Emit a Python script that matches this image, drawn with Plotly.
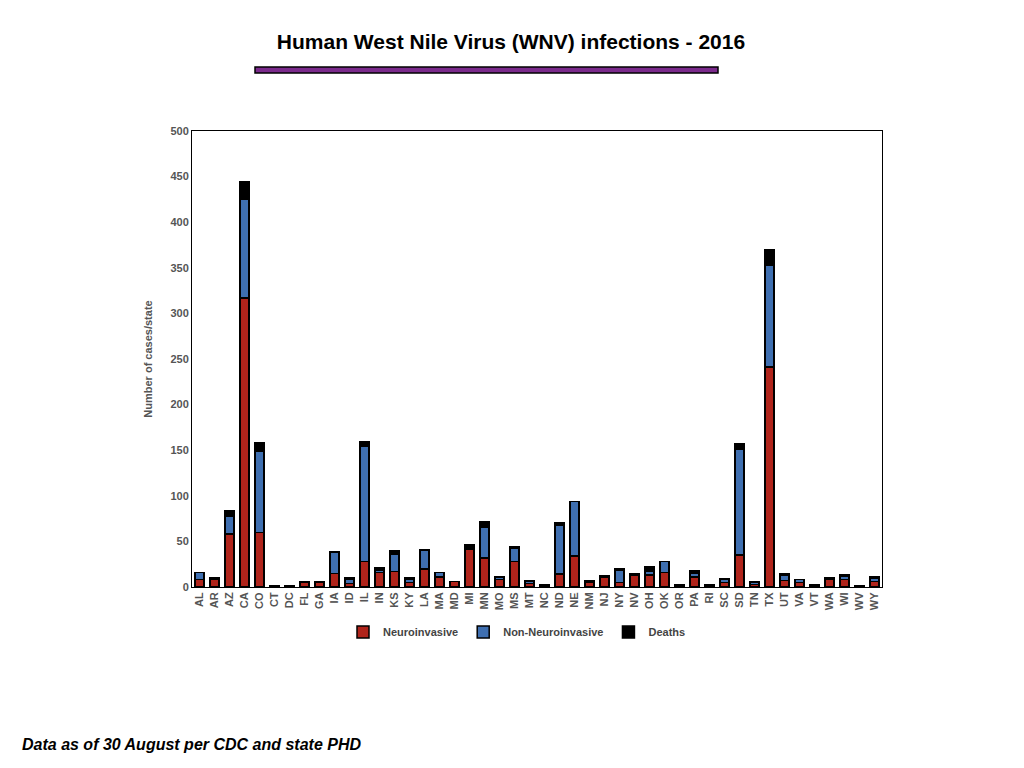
import plotly.graph_objs as go

states = ['AL', 'AR', 'AZ', 'CA', 'CO', 'CT', 'DC', 'FL', 'GA', 'IA', 'ID', 'IL', 'IN', 'KS', 'KY',
          'LA', 'MA', 'MD', 'MI', 'MN', 'MO', 'MS', 'MT', 'NC', 'ND', 'NE', 'NM', 'NJ', 'NY', 'NV',
          'OH', 'OK', 'OR', 'PA', 'RI', 'SC', 'SD', 'TN', 'TX', 'UT', 'VA', 'VT', 'WA', 'WI', 'WV', 'WY']
neuro = [8, 8, 58, 317, 60, 0, 0, 5, 5, 15, 4, 28, 16, 17, 5,
         20, 11, 6, 41, 32, 8, 28, 4, 2, 14, 34, 5, 11, 5, 13,
         13, 16, 2, 11, 2, 5, 35, 3, 241, 7, 5, 2, 8, 8, 0, 6]
non_neuro = [8, 0, 20, 108, 89, 0, 0, 0, 0, 23, 5, 126, 2, 19, 3,
             20, 5, 0, 0, 34, 3, 15, 2, 0, 54, 60, 0, 0, 13, 2,
             4, 12, 0, 4, 0, 4, 116, 2, 112, 6, 3, 0, 0, 4, 0, 4]
deaths = [0, 2, 6, 19, 9, 1, 1, 1, 1, 1, 1, 5, 3, 4, 2,
          1, 0, 0, 5, 6, 0, 1, 1, 0, 3, 0, 2, 1, 2, 0,
          5, 0, 1, 3, 0, 0, 6, 1, 17, 2, 0, 1, 2, 1, 1, 1]

outline = dict(color='black', width=1.5)
fig = go.Figure()
fig.add_trace(go.Bar(x=states, y=neuro, name='<b>Neuroinvasive</b>', marker=dict(color='#B0241B', line=outline)))
fig.add_trace(go.Bar(x=states, y=non_neuro, name='<b>Non-Neuroinvasive</b>', marker=dict(color='#3F6FB0', line=outline)))
fig.add_trace(go.Bar(x=states, y=deaths, name='<b>Deaths</b>', marker=dict(color='black', line=outline)))

# page has an 8px offset, so the plot box 192..882 x 131..587 becomes 184..874 x 123..579
L, R, T, B = 184, 874, 123, 579
W, H = R - L, B - T

tickfont = dict(family='Liberation Sans, Arial', size=11, color='#555555')
fig.update_layout(
    barmode='stack', bargap=0.4,
    width=1024, height=768,
    margin=dict(l=L, r=1024 - R, t=T, b=768 - B),
    paper_bgcolor='white', plot_bgcolor='white',
    font=dict(family='Liberation Sans, Arial'),
    title=dict(text='<b>Human West Nile Virus (WNV) infections - 2016</b>',
               x=(511 - 8) / 1024, xanchor='center', y=1 - 34 / 768, yanchor='middle',
               font=dict(size=21, color='black')),
    xaxis=dict(tickangle=-90, tickfont=tickfont, showline=True, linecolor='black', mirror=True,
               ticks='', showgrid=False),
    yaxis=dict(range=[0, 500], dtick=50, tickfont=tickfont, showline=True, linecolor='black',
               mirror=True, showgrid=False, ticks='', zeroline=False,
               title=dict(text='<b>Number of cases/state</b>', font=dict(size=11, color='#555555'))),
    legend=dict(orientation='h', x=(517 - 8 - L) / W, xanchor='center', y=-(624 - B) / H, yanchor='middle',
                font=dict(size=11, color='#444444'), traceorder='normal', itemwidth=30),
)
fig.update_xaxes(tickprefix='<b>', ticksuffix='</b>')
fig.update_yaxes(tickprefix='<b>', ticksuffix='</b>')

# purple rule under the title
fig.add_shape(type='rect', xref='paper', yref='paper',
              x0=(247 - L) / W, x1=(710 - L) / W,
              y0=(B - 65) / H, y1=(B - 59) / H,
              fillcolor='#7B2A8C', line=dict(color='black', width=1.5))
fig.add_annotation(text='<b><i>Data as of 30 August per CDC and state PHD</i></b>',
                   xref='paper', yref='paper', x=(12 - L) / W, xanchor='left',
                   y=(B - 736) / H, yanchor='middle', showarrow=False,
                   font=dict(size=16, color='black'))

fig.write_html('out.html')
